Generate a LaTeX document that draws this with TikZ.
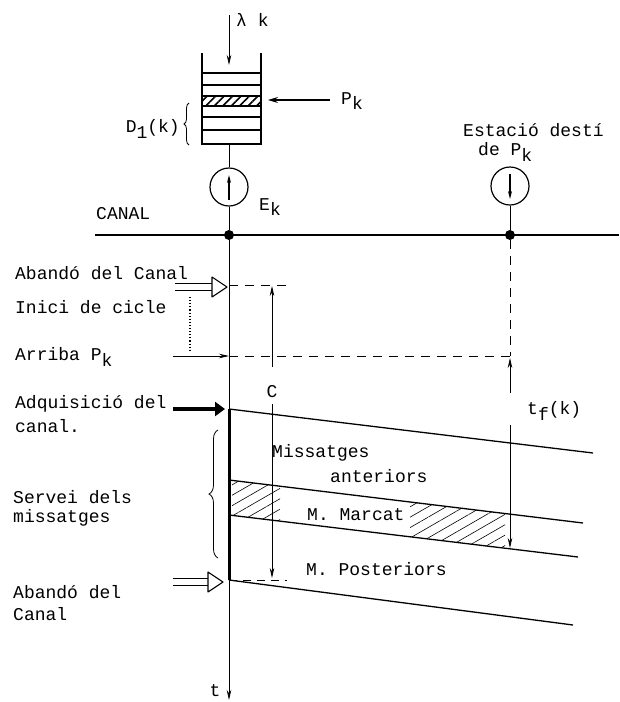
\documentclass[tikz,border=0pt]{standalone}
\usepackage{fontspec}
\setmainfont{Liberation Mono}
\usepackage{tikz}
\usetikzlibrary{positioning, arrows.meta, decorations.pathreplacing, patterns.meta}
\newcommand{\lowix}[1]{\raisebox{-0.6ex}{#1}}

\begin{document}
\begin{tikzpicture}[x=1pt, y=-1pt,
      every node/.style={font=\fontsize{18}{21}\selectfont, inner sep=1pt},
      txt/.style={anchor=west, align=left},
      thinline/.style={line width=0.8pt},
      meas/.style={line width=0.8pt, -{Stealth[length=10pt, width=4.5pt]}},
      wall/.style={line width=1.4pt},
      slope/.style={line width=1.3pt},
      canal/.style={line width=2.6pt},
      hollowbody/.style={line width=1.1pt},
      hollowhead/.style={line width=1.1pt, fill=white, line join=round},
      solidarr/.style={line width=4pt, -{Triangle[length=10pt, width=14pt]}},
      hatch/.style={pattern={Lines[angle=30, distance=9pt, line width=0.6pt]}},
      station/.style={circle, draw, line width=1.2pt, minimum size=38pt, inner sep=0pt},
      dot/.style={circle, fill, minimum size=10pt, inner sep=0pt},
      dashline/.style={dash pattern=on 9pt off 7pt, line width=0.9pt},
      ]
      \useasboundingbox (0,0) rectangle (619,702);

      \coordinate (lamtop) at (229,15);
      \coordinate (qin) at (229,65);
      \draw[meas] (lamtop) -- (qin);
      \node[txt] (lam) at (235,20) {λ k};

      \draw[wall] (202,53) |- (261,144) -- (261,53);
      \foreach \yy in {73,85,117,130}
            \draw[wall] (202,\yy) -- (261,\yy);
      \draw[wall, pattern={Lines[angle=45, distance=6pt, line width=1.6pt]}]
            (202,96) rectangle (261,106);
      \coordinate (qbot) at (229,144);

      \coordinate (pkfrom) at (330,100);
      \coordinate (pkto) at (268,100);
      \draw[line width=1.2pt, -{Stealth[length=10pt, width=6pt]}] (pkfrom) -- (pkto);
      \node[txt] (pk) at (340,101) {P\lowix{k}};

      \draw[decorate, decoration={brace, amplitude=5pt}, line width=0.8pt] (189,145) -- (189,103);
      \node[anchor=east] (dk) at (181,129) {D\lowix{1}(k)};

      \node[station] (ek) at (229,187) {};
      \draw[line width=1.2pt, -{Stealth[length=8pt, width=4pt]}] (229,200) -- (229,175);
      \draw[thinline] (qbot) -- (ek);
      \node[txt] (ekl) at (258,207) {E\lowix{k}};

      \coordinate (cl) at (95,235);
      \coordinate (cr) at (619,235);
      \draw[canal] (cl) -- (cr);
      \node[dot] (src) at (229,235) {};
      \node[dot] (dst) at (510,235) {};
      \draw[thinline] (ek) -- (src);
      \node[txt] (canallbl) at (95,214) {CANAL};

      \node[station] (dest) at (510,186) {};
      \draw[line width=1.2pt, -{Stealth[length=8pt, width=4pt]}] (510,174) -- (510,199);
      \draw[thinline] (dest) -- (dst);
      \node[txt] (estacio) at (462,130) {Estació destí};
      \node[txt] (depk) at (477,152) {de P\lowix{k}};

      \coordinate (tend) at (229,700);
      \draw[meas] (src) -- (tend);
      \node (tlbl) at (215,691) {t};

      \coordinate (ab1) at (175,287);
      \coordinate (ab1t) at (227,287);
      \draw[hollowbody] (ab1) ++(0,-3.5) -- ++(38,0) (ab1) ++(0,3.5) -- ++(38,0);
      \draw[hollowhead] (ab1t) -- ++(-15,-10) -- ++(0,20) -- cycle;
      \draw[dashline] (229,285) -- (286,285);
      \node[txt] (abandoA) at (14,273) {Abandó del Canal};
      \node[txt] (inici) at (14,307) {Inici de cicle};
      \draw[dotted, line width=1.1pt] (190,297) -- (190,350);

      \coordinate (arr0) at (173,356);
      \coordinate (arr1) at (229,356);
      \coordinate (arr2) at (510,356);
      \draw[meas] (arr0) -- (arr1);
      \draw[dashline] (arr1) -- (arr2);
      \draw[dashline] (dst) -- (arr2);
      \node[txt] (arriba) at (14,357) {Arriba P\lowix{k}};

      \draw[meas] (510,393) -- (510,358);
      \draw[meas] (510,425) -- (510,548);
      \node[txt] (tf) at (526,411) {t\lowix{f}(k)};

      \draw[meas] (272,367) -- (272,286);
      \node (clbl) at (272,392) {C};
      \draw[meas] (272,404) -- (272,578);
      \draw[dash pattern=on 8pt off 6pt, line width=1pt] (229,580) -- (287,580);

      \coordinate (adq0) at (173,409);
      \coordinate (adq1) at (225,409);
      \draw[solidarr] (adq0) -- (adq1);
      \node[txt] (adqA) at (14,404) {Adquisició del};
      \node[txt] (adqB) at (14,426) {canal.};

      \draw[line width=3pt] (229,409) -- (229,580);

      \fill[hatch] (232,480.4) -- (280,486.2) -- (280,521.1) -- (232,515.4) -- cycle;
      \fill[hatch] (410,502.0) -- (505,513.5) -- (505,548.2) -- (410,536.8) -- cycle;
      \draw[slope] (229,409) -- (593,453);
      \draw[slope] (229,480) -- (583,523);
      \draw[slope] (229,515) -- (578,557);
      \draw[slope] (229,580) -- (573,625);

      \node[txt] (ant1) at (271,453) {Missatges};
      \node[txt] (ant2) at (329,476) {anteriors};
      \node[txt] (marcat) at (306,515) {M. Marcat};
      \node[txt] (post) at (305,569) {M. Posteriors};

      \draw[decorate, decoration={brace, amplitude=9pt}, line width=0.8pt] (218,558) -- (218,430);
      \node[txt] (servA) at (12,497) {Servei dels};
      \node[txt] (servB) at (12,518) {missatges};

      \coordinate (ab2) at (173,582);
      \coordinate (ab2t) at (223,582);
      \draw[hollowbody] (ab2) ++(0,-3.5) -- ++(36,0) (ab2) ++(0,3.5) -- ++(36,0);
      \draw[hollowhead] (ab2t) -- ++(-15,-10) -- ++(0,20) -- cycle;
      \node[txt] (abandoB) at (12,592) {Abandó del};
      \node[txt] (abandoC) at (12,614) {Canal};
\end{tikzpicture}
\end{document}
